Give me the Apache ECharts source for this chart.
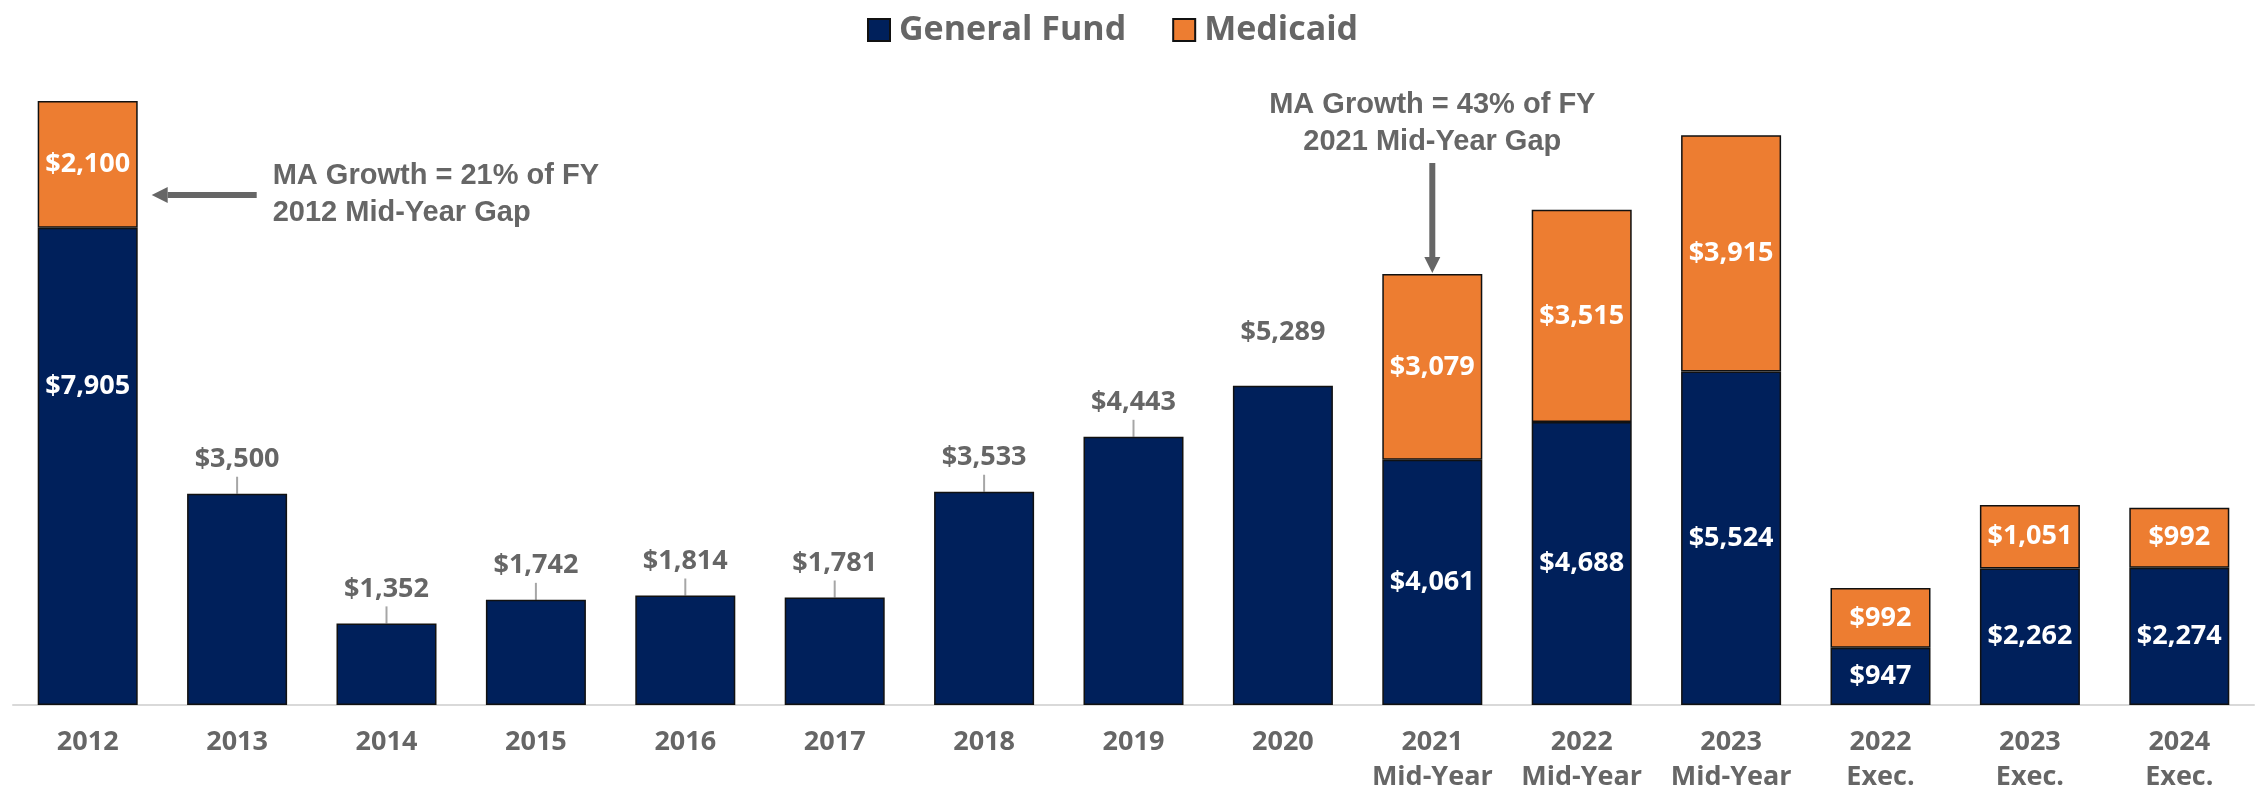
<!DOCTYPE html>
<html lang="en">
<head>
    <meta charset="UTF-8">
    <title>General Fund and Medicaid gaps</title>
    <script src="https://cdn.jsdelivr.net/npm/echarts@6/dist/echarts.min.js"></script>
    <style>
        html, body { margin: 0; padding: 0; background: #fff; }
        #main { width: 2257px; height: 789px; }
    </style>
</head>
<body>
    <div id="main"></div>
    <script type="text/javascript">
        // data ($ millions)
        var categories = ['2012', '2013', '2014', '2015', '2016', '2017', '2018', '2019', '2020',
            '2021\nMid-Year', '2022\nMid-Year', '2023\nMid-Year', '2022\nExec.', '2023\nExec.', '2024\nExec.'];
        var generalFund = [7905, 3500, 1352, 1742, 1814, 1781, 3533, 4443, 5289, 4061, 4688, 5524, 947, 2262, 2274];
        var medicaid = [2100, null, null, null, null, null, null, null, null, 3079, 3515, 3915, 992, 1051, 992];

        var NAVY = '#00205B';
        var ORANGE = '#ED7D31';
        var GRAY = '#666666';
        var LABEL_FONT = '"Open Sans", Lato, sans-serif';
        var NOTE_FONT = '"Liberation Sans", Arial, sans-serif';

        function money(v) {
            return '$' + Number(v).toLocaleString('en-US');
        }

        var insideLabel = {
            show: true, position: 'inside', color: '#fff',
            fontFamily: LABEL_FONT, fontWeight: 'bold', fontSize: 27,
            formatter: function (p) { return money(p.value); }
        };

        var gfData = generalFund.map(function (v, i) {
            if (medicaid[i] == null) {
                return {
                    value: v,
                    label: {
                        show: true, position: 'top', distance: i === 8 ? 40 : 21,
                        color: GRAY, fontFamily: LABEL_FONT, fontWeight: 'bold', fontSize: 27,
                        formatter: function (p) { return money(p.value); }
                    }
                };
            }
            var item = { value: v, label: insideLabel };
            if (i === 0) {
                item.label = Object.assign({}, insideLabel, { offset: [0, -80] });
            }
            return item;
        });

        var maData = medicaid.map(function (v) {
            return v == null ? '-' : { value: v, label: insideLabel };
        });

        var myChart = echarts.init(document.getElementById('main'));

        var option = {
            animation: false,
            backgroundColor: '#fff',
            legend: {
                data: ['General Fund', 'Medicaid'],
                icon: 'rect',
                left: 862,
                top: 8,
                itemWidth: 22,
                itemHeight: 22,
                itemGap: 46,
                textStyle: {
                    color: GRAY, fontFamily: LABEL_FONT, fontWeight: 'bold',
                    fontSize: 34, lineHeight: 34, padding: [0, 0, 0, 4]
                }
            },
            grid: { left: 13, right: 3, top: 41, bottom: 84, containLabel: false, outerBoundsMode: 'none' },
            xAxis: {
                type: 'category',
                data: categories,
                axisTick: { show: false },
                axisLine: { lineStyle: { color: '#d9d9d9', width: 2 } },
                axisLabel: {
                    color: GRAY, fontFamily: LABEL_FONT, fontWeight: 'bold',
                    fontSize: 27, lineHeight: 35, margin: 20, interval: 0
                }
            },
            yAxis: {
                type: 'value', min: 0, max: 11000, show: false,
                splitLine: { show: false }
            },
            series: [
                {
                    name: 'General Fund',
                    type: 'bar',
                    stack: 'gap',
                    barWidth: 100,
                    itemStyle: { color: NAVY, borderColor: '#111', borderWidth: 1.5 },
                    data: gfData
                },
                {
                    name: 'Medicaid',
                    type: 'bar',
                    stack: 'gap',
                    barWidth: 100,
                    itemStyle: { color: ORANGE, borderColor: '#111', borderWidth: 1.5 },
                    data: maData
                }
            ]
        };

        myChart.setOption(option);

        // annotations and leader lines, anchored on the bars
        function px(i, v) {
            return myChart.convertToPixel({ xAxisIndex: 0, yAxisIndex: 0 }, [i, v]);
        }
        function arrow(x1, y1, x2, y2) {
            var dx = x2 - x1, dy = y2 - y1;
            var len = Math.sqrt(dx * dx + dy * dy);
            var ux = dx / len, uy = dy / len;
            var head = 16, half = 8;
            var bx = x2 - ux * head, by = y2 - uy * head;
            return [
                { type: 'line', shape: { x1: x1, y1: y1, x2: bx, y2: by },
                  style: { stroke: GRAY, lineWidth: 6 } },
                { type: 'polygon',
                  shape: { points: [[x2, y2], [bx - uy * half, by + ux * half], [bx + uy * half, by - ux * half]] },
                  style: { fill: GRAY } }
            ];
        }

        var els = [];
        for (var i = 0; i < generalFund.length; i++) {
            if (medicaid[i] == null && i !== 8) {
                var p = px(i, generalFund[i]);
                els.push({ type: 'line', shape: { x1: p[0], y1: p[1], x2: p[0], y2: p[1] - 17 },
                           style: { stroke: '#a6a6a6', lineWidth: 2 } });
            }
        }

        var top2012 = px(0, generalFund[0] + medicaid[0]);
        els = els.concat(arrow(top2012[0] + 169, top2012[1] + 94, top2012[0] + 64, top2012[1] + 94));
        els.push({
            type: 'text', x: top2012[0] + 185, y: top2012[1] + 56,
            style: {
                text: 'MA Growth = 21% of FY\n2012 Mid-Year Gap',
                fill: GRAY, font: 'bold 29px ' + NOTE_FONT, lineHeight: 37,
                textAlign: 'left', textVerticalAlign: 'top'
            }
        });

        var top2021 = px(9, generalFund[9] + medicaid[9]);
        els = els.concat(arrow(top2021[0], top2021[1] - 111, top2021[0], top2021[1] - 1));
        els.push({
            type: 'text', x: top2021[0], y: top2021[1] - 188,
            style: {
                text: 'MA Growth = 43% of FY\n2021 Mid-Year Gap',
                fill: GRAY, font: 'bold 29px ' + NOTE_FONT, lineHeight: 37,
                textAlign: 'center', textVerticalAlign: 'top'
            }
        });

        myChart.setOption({ graphic: { elements: els } });
    </script>
</body>
</html>
